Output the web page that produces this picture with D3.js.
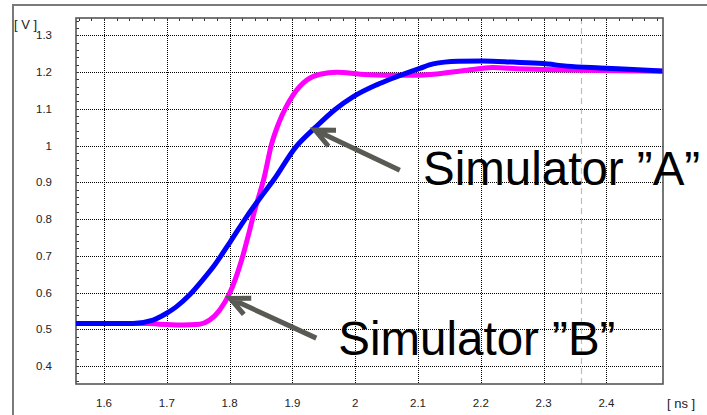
<!DOCTYPE html>
<html>
<head>
<meta charset="utf-8">
<script src="https://cdn.jsdelivr.net/npm/d3@7"></script>
<style>
  html, body { margin: 0; padding: 0; background: #fff; }
  svg { display: block; }
  .tick-label { font-family: "Liberation Sans", Arial, sans-serif; font-size: 11.5px; fill: #222; }
  .unit-label { font-family: "Liberation Sans", Arial, sans-serif; font-size: 13px; fill: #222; }
  .note { font-family: "Liberation Sans", Arial, sans-serif; font-size: 47.5px; fill: #000; }
</style>
</head>
<body>
<svg id="chart" width="707" height="415"></svg>
<script>
// Time axis (ns) and voltage axis (V)
const xTickValues = [1.6, 1.7, 1.8, 1.9, 2.0, 2.1, 2.2, 2.3, 2.4];
const xTickLabels = ["1.6", "1.7", "1.8", "1.9", "2", "2.1", "2.2", "2.3", "2.4"];
const yTickValues = [0.4, 0.5, 0.6, 0.7, 0.8, 0.9, 1.0, 1.1, 1.2, 1.3];
const yTickLabels = ["0.4", "0.5", "0.6", "0.7", "0.8", "0.9", "1", "1.1", "1.2", "1.3"];
const xUnit = "[ ns ]";
const yUnit = "[ V ]";
const markerTime = 2.359;

// Simulator "A" waveform
const timeA = [1.555, 1.646, 1.678, 1.699, 1.715, 1.736, 1.757, 1.774, 1.801, 1.827,
  1.848, 1.870, 1.905, 1.937, 1.968, 1.997, 2.034, 2.061, 2.103, 2.124,
  2.164, 2.203, 2.251, 2.299, 2.337, 2.390, 2.442, 2.489];
const voltA = [0.516, 0.516, 0.525, 0.543, 0.561, 0.593, 0.634, 0.670, 0.738, 0.806,
  0.856, 0.906, 0.995, 1.050, 1.098, 1.133, 1.165, 1.184, 1.210, 1.222,
  1.229, 1.230, 1.227, 1.223, 1.216, 1.211, 1.207, 1.203];

// Simulator "B" waveform
const timeB = [1.555, 1.670, 1.688, 1.725, 1.752, 1.768, 1.784, 1.800, 1.819, 1.832,
  1.840, 1.848, 1.854, 1.867, 1.878, 1.890, 1.901, 1.923, 1.944, 1.971,
  2.008, 2.061, 2.103, 2.124, 2.178, 2.219, 2.258, 2.299, 2.363, 2.489];
const voltB = [0.516, 0.516, 0.514, 0.512, 0.514, 0.525, 0.552, 0.598, 0.688, 0.770,
  0.824, 0.870, 0.906, 1.005, 1.060, 1.105, 1.137, 1.178, 1.194, 1.199,
  1.194, 1.191, 1.191, 1.194, 1.205, 1.212, 1.209, 1.207, 1.205, 1.202];

// Callouts: label text, label anchor, arrow tail and arrow tip (data units)
const noteLabels = ["Simulator \u201DA\u201D", "Simulator \u201DB\u201D"];
const noteTextPos = [[2.108, 0.892], [1.973, 0.430]];
const noteTail = [[2.071, 0.933], [1.938, 0.476]];
const noteTip = [[1.936, 1.042], [1.801, 0.584]];

const svg = d3.select("#chart");
const plot = { left: 76, right: 663, top: 18, bottom: 384 };

const x = d3.scaleLinear().domain([1.5554, 2.4901]).range([plot.left, plot.right]);
const y = d3.scaleLinear().domain([0.3512, 1.3469]).range([plot.bottom, plot.top]);

// Outer panel border (continues past the right and bottom edges)
svg.append("path")
  .attr("d", "M13,420 L13,5 L712,5")
  .attr("fill", "none").attr("stroke", "#7a7a7a").attr("stroke-width", 2);

// Grid
const grid = svg.append("g");
grid.selectAll("line.gx").data(xTickValues).join("line")
  .attr("x1", d => Math.round(x(d)) + 0.5).attr("x2", d => Math.round(x(d)) + 0.5)
  .attr("y1", plot.top).attr("y2", plot.bottom)
  .attr("stroke", "#000").attr("stroke-width", 1).attr("stroke-dasharray", "1,1");
grid.selectAll("line.gy").data(yTickValues).join("line")
  .attr("y1", d => Math.round(y(d)) + 0.5).attr("y2", d => Math.round(y(d)) + 0.5)
  .attr("x1", plot.left).attr("x2", plot.right)
  .attr("stroke", "#000").attr("stroke-width", 1).attr("stroke-dasharray", "1,1");

// Cursor marker
svg.append("line")
  .attr("x1", Math.round(x(markerTime)) + 0.5).attr("x2", Math.round(x(markerTime)) + 0.5)
  .attr("y1", plot.top).attr("y2", plot.bottom)
  .attr("stroke", "#bdbdbd").attr("stroke-width", 1.2).attr("stroke-dasharray", "6,4");

// Minor ticks on the left and top edges, pointing inward
const leftMinor = d3.range(0.36, 1.345, 0.02);
const topMinor = d3.range(1.56, 2.49, 0.02);
svg.append("g").selectAll("line").data(leftMinor).join("line")
  .attr("x1", plot.left).attr("x2", plot.left + 3)
  .attr("y1", d => Math.round(y(d)) + 0.5).attr("y2", d => Math.round(y(d)) + 0.5)
  .attr("stroke", "#333").attr("stroke-width", 1);
svg.append("g").selectAll("line").data(topMinor).join("line")
  .attr("y1", plot.top).attr("y2", plot.top + 3)
  .attr("x1", d => Math.round(x(d)) + 0.5).attr("x2", d => Math.round(x(d)) + 0.5)
  .attr("stroke", "#333").attr("stroke-width", 1);

// Plot frame
svg.append("rect")
  .attr("x", plot.left).attr("y", plot.top)
  .attr("width", plot.right - plot.left).attr("height", plot.bottom - plot.top)
  .attr("fill", "none").attr("stroke", "#555").attr("stroke-width", 1.6);

// Tick labels
svg.append("g").selectAll("text").data(xTickValues).join("text")
  .attr("class", "tick-label")
  .attr("x", d => x(d)).attr("y", 407)
  .attr("text-anchor", "middle")
  .text((d, i) => xTickLabels[i]);
svg.append("g").selectAll("text").data(yTickValues).join("text")
  .attr("class", "tick-label")
  .attr("x", 52).attr("y", d => y(d) + 4)
  .attr("text-anchor", "end")
  .text((d, i) => yTickLabels[i]);
svg.append("text").attr("class", "unit-label")
  .attr("x", 667).attr("y", 408).text(xUnit);
svg.append("text").attr("class", "unit-label")
  .attr("x", 14).attr("y", 29).text(yUnit);

// Waveforms
const line = d3.line().x(d => x(d[0])).y(d => y(d[1])).curve(d3.curveMonotoneX);
svg.append("clipPath").attr("id", "plot-clip").append("rect")
  .attr("x", plot.left).attr("y", plot.top)
  .attr("width", plot.right - plot.left).attr("height", plot.bottom - plot.top);

const waves = svg.append("g").attr("clip-path", "url(#plot-clip)");
waves.append("path")
  .datum(d3.zip(timeB, voltB))
  .attr("d", line)
  .attr("fill", "none").attr("stroke", "#ff00ff").attr("stroke-width", 5)
  .attr("stroke-linejoin", "round");
waves.append("path")
  .datum(d3.zip(timeA, voltA))
  .attr("d", line)
  .attr("fill", "none").attr("stroke", "#0000ff").attr("stroke-width", 5)
  .attr("stroke-linejoin", "round");

// Callout arrows with open heads
const arrowColor = "#5a5a54";
noteLabels.forEach((label, i) => {
  const tx = x(noteTip[i][0]), ty = y(noteTip[i][1]);
  const sx = x(noteTail[i][0]), sy = y(noteTail[i][1]);
  const ang = Math.atan2(sy - ty, sx - tx);
  const wing = 21, spread = 25 * Math.PI / 180;
  const w1 = [tx + wing * Math.cos(ang - spread), ty + wing * Math.sin(ang - spread)];
  const w2 = [tx + wing * Math.cos(ang + spread), ty + wing * Math.sin(ang + spread)];
  svg.append("path")
    .attr("d", `M${sx},${sy}L${tx},${ty}M${w1[0]},${w1[1]}L${tx},${ty}L${w2[0]},${w2[1]}`)
    .attr("fill", "none").attr("stroke", arrowColor).attr("stroke-width", 5)
    .attr("stroke-linejoin", "miter").attr("stroke-linecap", "butt");
  svg.append("text").attr("class", "note")
    .attr("x", x(noteTextPos[i][0])).attr("y", y(noteTextPos[i][1]))
    .text(label);
});
</script>
</body>
</html>
